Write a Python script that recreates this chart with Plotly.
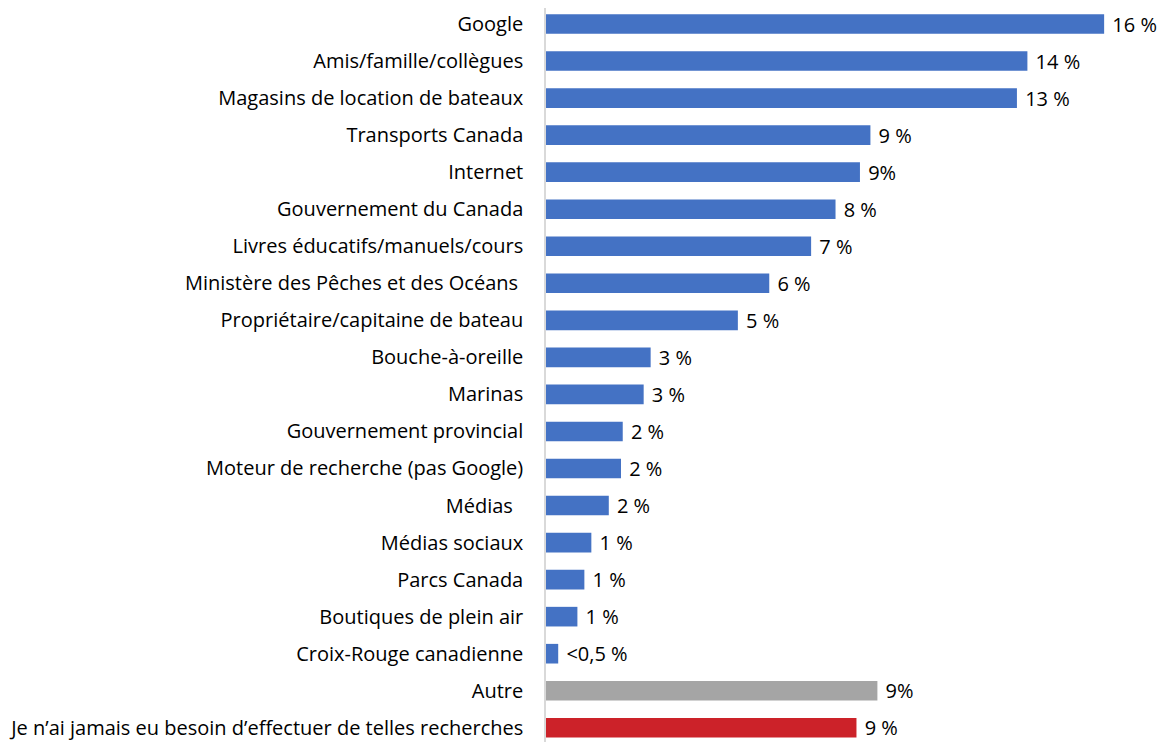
import plotly.graph_objects as go

categories = [
    "Google",
    "Amis/famille/collègues",
    "Magasins de location de bateaux",
    "Transports Canada",
    "Internet",
    "Gouvernement du Canada",
    "Livres éducatifs/manuels/cours",
    "Ministère des Pêches et des Océans ",
    "Propriétaire/capitaine de bateau",
    "Bouche-à-oreille",
    "Marinas",
    "Gouvernement provincial",
    "Moteur de recherche (pas Google)",
    "Médias  ",
    "Médias sociaux",
    "Parcs Canada",
    "Boutiques de plein air",
    "Croix-Rouge canadienne",
    "Autre",
    "Je n’ai jamais eu besoin d’effectuer de telles recherches",
]
values = [16.0, 13.8, 13.5, 9.3, 9.0, 8.3, 7.6, 6.4, 5.5, 3.0, 2.8, 2.2, 2.15,
          1.8, 1.3, 1.1, 0.9, 0.35, 9.5, 8.9]
value_labels = ["16 %", "14 %", "13 %", "9 %", "9%", "8 %", "7 %", "6 %", "5 %",
                "3 %", "3 %", "2 %", "2 %", "2 %", "1 %", "1 %", "1 %", "<0,5 %",
                "9%", "9 %"]
bar_colors = ["#4472C4"] * 18 + ["#A5A5A5", "#CC2229"]

FONT = "Open Sans, sans-serif"

fig = go.Figure(
    go.Bar(
        x=values,
        y=categories,
        orientation="h",
        marker=dict(color=bar_colors, line=dict(width=0)),
        width=0.53,
        text=[" " + t for t in value_labels],
        textposition="outside",
        constraintext="none",
        textfont=dict(family=FONT, size=20, color="#000000"),
        cliponaxis=False,
        hoverinfo="skip",
    )
)

fig.update_layout(
    width=1168,
    height=742,
    margin=dict(l=538, r=0, t=0, b=0, autoexpand=False),
    paper_bgcolor="white",
    plot_bgcolor="white",
    showlegend=False,
    font=dict(family=FONT, size=20, color="#000000"),
    uniformtext=dict(mode=False),
)
fig.update_xaxes(range=[0, 18.06], visible=False, showgrid=False, zeroline=False)
fig.update_yaxes(
    range=[19.60, -0.432],
    automargin=False,
    showline=True,
    linecolor="#D9D9D9",
    linewidth=1.5,
    showgrid=False,
    ticks="",
    ticklabelstandoff=17,
    tickfont=dict(family=FONT, size=20, color="#000000"),
)

fig.write_html("out.html")
